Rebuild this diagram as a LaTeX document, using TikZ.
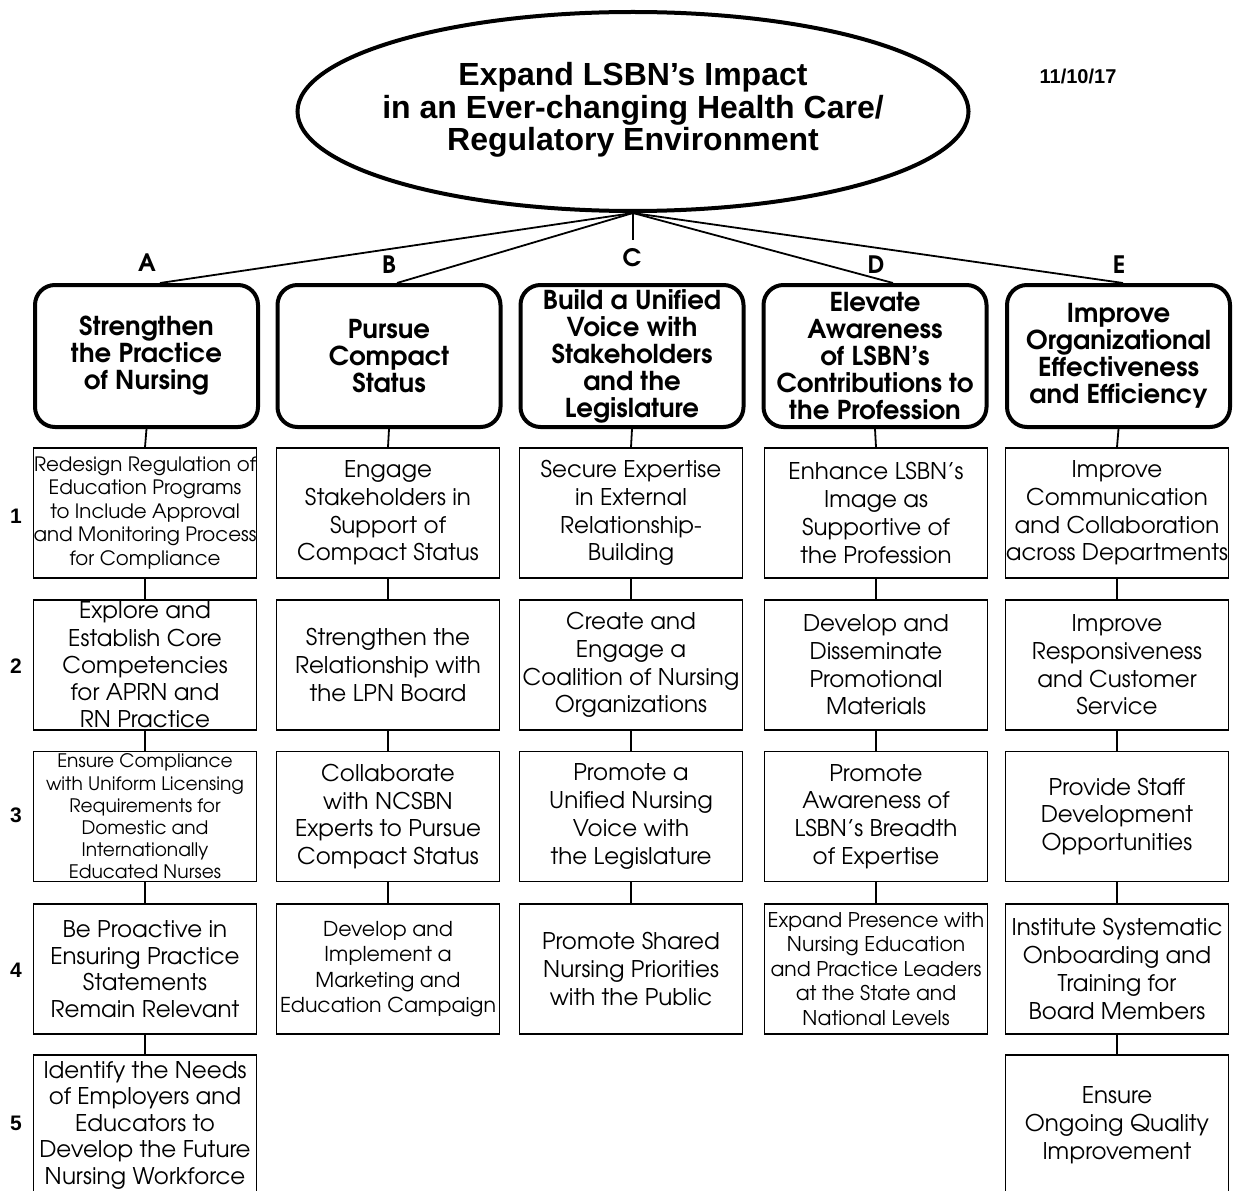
\documentclass[tikz,border=0pt]{standalone}
\usepackage{fontspec}
\setmainfont{TeX Gyre Adventor}
\newfontfamily\arialf{Liberation Sans}
\usetikzlibrary{shapes.geometric}
\newcommand\fs[2]{\fontsize{#1}{#2}\selectfont}
\begin{document}
\begin{tikzpicture}[x=1pt,y=-1pt,
  head/.style={draw, line width=4pt, rounded corners=20pt, minimum width=223pt,
    minimum height=142pt, inner sep=0pt, align=center, font=\fs{26}{27}\bfseries},
  sub/.style={draw, line width=1.8pt, minimum width=223pt, minimum height=130pt,
    inner sep=0pt, align=center, font=\fs{23}{27.7}},
  conn/.style={line width=1.8pt},
  lett/.style={font=\fs{24}{24}\bfseries},
  num/.style={font=\arialf\fs{21}{21}\bfseries}]
\useasboundingbox (0,0) rectangle (1238,1190);
\clip (0,0) rectangle (1238,1190);

% top ellipse
\node[ellipse, draw, line width=4pt, minimum width=671pt, minimum height=199pt, inner sep=0pt] (top) at (633,111.5) {};
\node[align=center, font=\arialf\fs{32}{32.5}\bfseries] (title) at (633,110)
  {Expand LSBN’s Impact\\in an Ever-changing Health Care/\\Regulatory Environment};
\node[font=\arialf\fs{20}{20}\bfseries] (date) at (1078,76) {11/10/17};

% headings
\node[head] (hA) at (146.5,356) {Strengthen\\the Practice\\of Nursing};
\node[head] (hB) at (389,356) {Pursue\\Compact\\Status};
\node[head] (hC) at (632,356) {Build a Unified\\Voice with\\Stakeholders\\and the\\Legislature};
\node[head] (hD) at (875,356) {Elevate\\Awareness\\of LSBN’s\\Contributions to\\the Profession};
\node[head] (hE) at (1118.5,356) {Improve\\Organizational\\Effectiveness\\and Efficiency};

% letters
\node[lett] (lA) at (147,263) {A};
\node[lett] (lB) at (389,265) {B};
\node[lett] (lC) at (632,258) {C};
\node[lett] (lD) at (876,265) {D};
\node[lett] (lE) at (1119,265) {E};

\coordinate (cend) at ([yshift=-27pt]top.south);
\draw[conn] (top.south) -- ([xshift=13.5pt]hA.north);
\draw[conn] (top.south) -- ([xshift=8pt]hB.north);
\draw[conn] (top.south) -- (cend);
\draw[conn] (top.south) -- ([xshift=18pt]hD.north);
\draw[conn] (top.south) -- ([xshift=4.5pt]hE.north);

% row numbers
\node[num] (n1) at (16,516) {1};
\node[num] (n2) at (16,666) {2};
\node[num] (n3) at (16,815) {3};
\node[num] (n4) at (16,970) {4};
\node[num] (n5) at (16,1123) {5};

% column A
\node[sub, font=\fs{19.8}{23.5}] (a1) at (145,513) {Redesign Regulation of\\Education Programs\\to Include Approval\\and Monitoring Process\\for Compliance};
\node[sub, font=\fs{23}{27.3}] (a2) at (145,665) {Explore and\\Establish Core\\Competencies\\for APRN and\\RN Practice};
\node[sub, font=\fs{18.6}{22.2}] (a3) at (145,816.5) {Ensure Compliance\\with Uniform Licensing\\Requirements for\\Domestic and\\Internationally\\Educated Nurses};
\node[sub, font=\fs{23}{26.5}] (a4) at (145,969) {Be Proactive in\\Ensuring Practice\\Statements\\Remain Relevant};
\node[sub, font=\fs{23}{26.5}, minimum height=140pt] (a5) at (145,1125) {Identify the Needs\\of Employers and\\Educators to\\Develop the Future\\Nursing Workforce};

% column B
\node[sub] (b1) at (388,513) {Engage\\Stakeholders in\\Support of\\Compact Status};
\node[sub] (b2) at (388,665) {Strengthen the\\Relationship with\\the LPN Board};
\node[sub] (b3) at (388,816.5) {Collaborate\\with NCSBN\\Experts to Pursue\\Compact Status};
\node[sub, font=\fs{20.5}{25.5}] (b4) at (388,969) {Develop and\\Implement a\\Marketing and\\Education Campaign};

% column C
\node[sub] (c1) at (631,513) {Secure Expertise\\in External\\Relationship-\\Building};
\node[sub] (c2) at (631,665) {Create and\\Engage a\\Coalition of Nursing\\Organizations};
\node[sub] (c3) at (631,816.5) {Promote a\\Unified Nursing\\Voice with\\the Legislature};
\node[sub] (c4) at (631,969) {Promote Shared\\Nursing Priorities\\with the Public};

% column D
\node[sub] (d1) at (876,513) {Enhance LSBN’s\\Image as\\Supportive of\\the Profession};
\node[sub] (d2) at (876,665) {Develop and\\Disseminate\\Promotional\\Materials};
\node[sub] (d3) at (876,816.5) {Promote\\Awareness of\\LSBN’s Breadth\\of Expertise};
\node[sub, font=\fs{20.3}{24.5}] (d4) at (876,969) {Expand Presence with\\Nursing Education\\and Practice Leaders\\at the State and\\National Levels};

% column E
\node[sub] (e1) at (1117,513) {Improve\\Communication\\and Collaboration\\across Departments};
\node[sub] (e2) at (1117,665) {Improve\\Responsiveness\\and Customer\\Service};
\node[sub] (e3) at (1117,816.5) {Provide Staff\\Development\\Opportunities};
\node[sub] (e4) at (1117,969) {Institute Systematic\\Onboarding and\\Training for\\Board Members};
\node[sub, minimum height=140pt] (e5) at (1117,1125) {Ensure\\Ongoing Quality\\Improvement};

% vertical connectors
\foreach \h/\f in {hA/a1,a1/a2,a2/a3,a3/a4,a4/a5,
                   hB/b1,b1/b2,b2/b3,b3/b4,
                   hC/c1,c1/c2,c2/c3,c3/c4,
                   hD/d1,d1/d2,d2/d3,d3/d4,
                   hE/e1,e1/e2,e2/e3,e3/e4,e4/e5}
  \draw[conn] (\h.south) -- (\f.north);
\end{tikzpicture}
\end{document}
